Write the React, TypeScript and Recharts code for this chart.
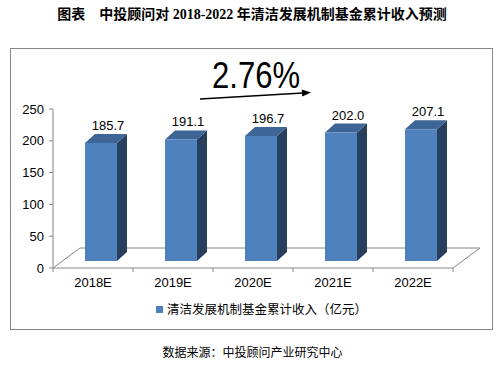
import { BarChart, Bar, XAxis, YAxis, LabelList, ReferenceLine } from "recharts";

const categories = ["2018E", "2019E", "2020E", "2021E", "2022E"];
const revenue = [185.7, 191.1, 196.7, 202.0, 207.1];
const yTicks = [0, 50, 100, 150, 200, 250];
const seriesName = "清洁发展机制基金累计收入（亿元）";
const growthRate = "2.76%";
const title = "图表　中投顾问对 2018-2022 年清洁发展机制基金累计收入预测";
const source = "数据来源：中投顾问产业研究中心";

const data = categories.map((year, i) => ({ year, value: revenue[i] }));

// 3d look: front face shift inside the floor depth, then box depth
const OX = 8;
const OY = -7;
const DX = 10;
const DY = -9;
const FLOOR_X = 27;
const FLOOR_Y = -20;

const FRONT = "#4f81bd";
const TOP = "#3d6595";
const SIDE = "#283f5f";
const GRAY = "#868686";
const LATIN = "'Liberation Sans', Arial, sans-serif";
const CJK = "'Noto Sans CJK SC', sans-serif";

function Box3D(props: any) {
  const { x, y, width, height } = props;
  if (height == null || width == null) return null;
  const fx = x + OX;
  const fy = y + OY;
  const top = `${fx},${fy} ${fx + DX},${fy + DY} ${fx + width + DX},${fy + DY} ${fx + width},${fy}`;
  const side = `${fx + width},${fy} ${fx + width + DX},${fy + DY} ${fx + width + DX},${fy + height + DY} ${fx + width},${fy + height}`;
  return (
    <g>
      <polygon points={side} fill={SIDE} />
      <polygon points={top} fill={TOP} />
      <rect x={fx} y={fy} width={width} height={height} fill={FRONT} />
    </g>
  );
}

function TopLabel(props: any) {
  const { x, y, width, value } = props;
  return (
    <text
      x={x + OX + (width + DX) / 2 + 2}
      y={y + OY + DY - 4}
      textAnchor="middle"
      fontSize={13}
      fontFamily={LATIN}
      fill="#000"
    >
      {Number(value).toFixed(1)}
    </text>
  );
}

function Floor(props: any) {
  const { x1, y1, x2 } = props;
  if (x1 == null) return null;
  const left = Math.min(x1, x2);
  const right = Math.max(x1, x2);
  return (
    <polyline
      points={`${left},${y1} ${left + FLOOR_X},${y1 + FLOOR_Y} ${right + FLOOR_X},${y1 + FLOOR_Y} ${right},${y1}`}
      fill="none"
      stroke={GRAY}
      strokeWidth={1}
    />
  );
}

function XTick(props: any) {
  const { x, y, payload, index, visibleTicksCount } = props;
  const half = payload?.offset || 40;
  const last = index === (visibleTicksCount ?? categories.length) - 1;
  return (
    <g>
      <line x1={x - half} y1={y} x2={x - half} y2={y + 4} stroke={GRAY} />
      {last && <line x1={x + half} y1={y} x2={x + half} y2={y + 4} stroke={GRAY} />}
      <text x={x} y={y + 19} textAnchor="middle" fontSize={13} fontFamily={LATIN} fill="#000">
        {payload.value}
      </text>
    </g>
  );
}

export default function App() {
  return (
    <div
      style={{
        position: "absolute",
        left: 0,
        top: 0,
        width: 497,
        height: 365,
        background: "#fff",
        overflow: "hidden",
      }}
    >
      <div
        style={{
          position: "absolute",
          left: 0,
          top: 6,
          width: 504,
          textAlign: "center",
          fontFamily: "'Liberation Serif', " + CJK,
          fontWeight: 700,
          fontSize: 14,
          lineHeight: "18px",
          color: "#000",
        }}
      >
        {title}
      </div>

      <div
        style={{
          position: "absolute",
          left: 10,
          top: 48,
          width: 481,
          height: 280,
          border: `1px solid ${GRAY}`,
        }}
      />

      <div style={{ position: "absolute", left: 0, top: 0 }}>
        <BarChart
          width={497}
          height={365}
          data={data}
          margin={{ top: 109, right: 44, bottom: 67, left: 13 }}
          barCategoryGap="30%"
        >
          <ReferenceLine y={0} shape={<Floor />} zIndex={-1} />
          <XAxis
            dataKey="year"
            axisLine={{ stroke: GRAY }}
            tickLine={false}
            tickSize={0}
            tickMargin={0}
            height={30}
            interval={0}
            tick={<XTick />}
          />
          <YAxis
            domain={[0, 250]}
            ticks={yTicks}
            width={40}
            axisLine={{ stroke: GRAY }}
            tickLine={{ stroke: GRAY }}
            tickSize={4}
            tickMargin={5}
            tick={{ fontSize: 13, fill: "#000", fontFamily: LATIN }}
          />
          <Bar dataKey="value" name={seriesName} shape={<Box3D />} isAnimationActive={false}>
            <LabelList dataKey="value" content={<TopLabel />} />
          </Bar>
        </BarChart>
      </div>

      <svg
        width={497}
        height={365}
        style={{ position: "absolute", left: 0, top: 0, pointerEvents: "none" }}
      >
        <text
          x={212}
          y={88}
          fontSize={36}
          fontFamily={LATIN}
          textLength={88}
          lengthAdjust="spacingAndGlyphs"
          fill="#000"
        >
          {growthRate}
        </text>
        <line x1={200} y1={99} x2={303} y2={93} stroke="#000" strokeWidth={1.5} />
        <polygon points="311,92.5 302.2,96.5 301.8,89.5" fill="#000" />
      </svg>

      <div
        style={{
          position: "absolute",
          left: 156,
          top: 301,
          display: "flex",
          alignItems: "center",
          fontFamily: CJK,
          fontSize: 12.5,
          lineHeight: "16px",
          color: "#000",
        }}
      >
        <span style={{ width: 7, height: 7, background: FRONT, marginRight: 4 }} />
        <span>{seriesName}</span>
      </div>

      <div
        style={{
          position: "absolute",
          left: 0,
          top: 344,
          width: 505,
          textAlign: "center",
          fontFamily: CJK,
          fontSize: 12,
          lineHeight: "16px",
          color: "#000",
        }}
      >
        {source}
      </div>
    </div>
  );
}
